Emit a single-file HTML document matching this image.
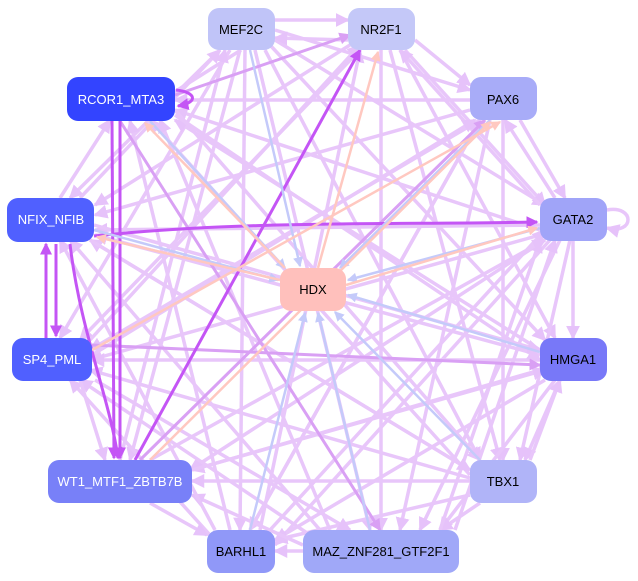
<!DOCTYPE html>
<html><head><meta charset="utf-8"><style>
html,body{margin:0;padding:0;background:#fff;}
svg{display:block;font-family:"Liberation Sans",sans-serif;}
</style></head><body>
<svg width="638" height="581" viewBox="0 0 638 581" xmlns="http://www.w3.org/2000/svg">
<defs>
<marker id="aL" markerWidth="4" markerHeight="4" refX="3.5" refY="2" orient="auto" markerUnits="strokeWidth"><path d="M0,0L4,2L0,4z" fill="#e6c2fa"/></marker>
<marker id="aM" markerWidth="4" markerHeight="4" refX="3.5" refY="2" orient="auto" markerUnits="strokeWidth"><path d="M0,0L4,2L0,4z" fill="#d9a0f4"/></marker>
<marker id="aS" markerWidth="4" markerHeight="4" refX="3.5" refY="2" orient="auto" markerUnits="strokeWidth"><path d="M0,0L4,2L0,4z" fill="#c455f5"/></marker>
<marker id="aB" markerWidth="4" markerHeight="4" refX="3.5" refY="2" orient="auto" markerUnits="strokeWidth"><path d="M0,0L4,2L0,4z" fill="#c4cafa"/></marker>
<marker id="aP" markerWidth="4" markerHeight="4" refX="3.5" refY="2" orient="auto" markerUnits="strokeWidth"><path d="M0,0L4,2L0,4z" fill="#ffc8c0"/></marker>
</defs>
<g fill="none" stroke-width="3.5" stroke="#e8c6fa" marker-end="url(#aL)">
<line x1="241" y1="50" x2="130" y2="120"/>
<line x1="220" y1="50" x2="70" y2="198"/>
<line x1="230" y1="50" x2="60" y2="338"/>
<line x1="240" y1="50" x2="130" y2="460"/>
<line x1="245" y1="50" x2="240" y2="530"/>
<line x1="255" y1="50" x2="370" y2="530"/>
<line x1="265" y1="50" x2="480" y2="460"/>
<line x1="270" y1="45" x2="545" y2="340"/>
<line x1="275" y1="40" x2="545" y2="205"/>
<line x1="275" y1="30" x2="470" y2="90"/>
<line x1="348" y1="40" x2="275" y2="38"/>
<line x1="275" y1="20" x2="348" y2="20"/>
<line x1="360" y1="50" x2="80" y2="340"/>
<line x1="350" y1="45" x2="95" y2="205"/>
<line x1="381" y1="50" x2="381" y2="530"/>
<line x1="390" y1="50" x2="500" y2="460"/>
<line x1="405" y1="50" x2="545" y2="205"/>
<line x1="415" y1="40" x2="470" y2="85"/>
<line x1="400" y1="50" x2="555" y2="338"/>
<line x1="470" y1="100" x2="175" y2="100"/>
<line x1="470" y1="110" x2="95" y2="215"/>
<line x1="480" y1="120" x2="90" y2="350"/>
<line x1="480" y1="120" x2="250" y2="530"/>
<line x1="490" y1="120" x2="400" y2="530"/>
<line x1="503" y1="120" x2="503" y2="460"/>
<line x1="520" y1="120" x2="565" y2="198"/>
<line x1="555" y1="198" x2="505" y2="120"/>
<line x1="540" y1="230" x2="175" y2="110"/>
<line x1="540" y1="225" x2="95" y2="230"/>
<line x1="540" y1="235" x2="90" y2="360"/>
<line x1="545" y1="240" x2="190" y2="470"/>
<line x1="550" y1="240" x2="275" y2="545"/>
<line x1="560" y1="240" x2="420" y2="530"/>
<line x1="573" y1="240" x2="573" y2="338"/>
<line x1="570" y1="240" x2="520" y2="460"/>
<line x1="540" y1="205" x2="400" y2="50"/>
<line x1="540" y1="350" x2="175" y2="120"/>
<line x1="540" y1="355" x2="95" y2="235"/>
<line x1="540" y1="360" x2="92" y2="360"/>
<line x1="540" y1="370" x2="192" y2="470"/>
<line x1="545" y1="380" x2="275" y2="540"/>
<line x1="555" y1="380" x2="440" y2="530"/>
<line x1="560" y1="380" x2="525" y2="460"/>
<line x1="530" y1="460" x2="560" y2="380"/>
<line x1="470" y1="475" x2="150" y2="120"/>
<line x1="470" y1="470" x2="90" y2="240"/>
<line x1="470" y1="478" x2="90" y2="370"/>
<line x1="470" y1="481" x2="192" y2="481"/>
<line x1="480" y1="503" x2="440" y2="530"/>
<line x1="470" y1="495" x2="275" y2="540"/>
<line x1="330" y1="530" x2="160" y2="120"/>
<line x1="320" y1="530" x2="70" y2="240"/>
<line x1="310" y1="535" x2="80" y2="380"/>
<line x1="303" y1="545" x2="192" y2="495"/>
<line x1="303" y1="551" x2="275" y2="551"/>
<line x1="440" y1="530" x2="540" y2="240"/>
<line x1="455" y1="530" x2="555" y2="240"/>
<line x1="230" y1="530" x2="130" y2="121"/>
<line x1="215" y1="530" x2="60" y2="240"/>
<line x1="210" y1="535" x2="70" y2="380"/>
<line x1="150" y1="503" x2="207" y2="535"/>
<line x1="250" y1="530" x2="480" y2="120"/>
<line x1="260" y1="530" x2="360" y2="50"/>
<line x1="270" y1="530" x2="545" y2="230"/>
<line x1="175" y1="115" x2="540" y2="360"/>
<line x1="175" y1="110" x2="480" y2="460"/>
<line x1="94" y1="225" x2="540" y2="350"/>
<line x1="90" y1="240" x2="470" y2="470"/>
<line x1="92" y1="355" x2="475" y2="120"/>
<line x1="80" y1="380" x2="105" y2="460"/>
<line x1="95" y1="380" x2="350" y2="530"/>
<line x1="90" y1="340" x2="360" y2="45"/>
<line x1="120" y1="460" x2="225" y2="50"/>
<line x1="150" y1="460" x2="545" y2="240"/>
<line x1="192" y1="470" x2="545" y2="370"/>
<line x1="60" y1="198" x2="110" y2="120"/>
<line x1="80" y1="198" x2="220" y2="50"/>
<path d="M607,210 C635,205 635,235 607,228"/>
</g>
<g fill="none" stroke="#d9a0f4" stroke-width="3" marker-end="url(#aM)">
<line x1="175" y1="95" x2="350" y2="35"/>
<line x1="120" y1="121" x2="380" y2="530"/>
<line x1="92" y1="345" x2="540" y2="365"/>
<line x1="140" y1="460" x2="485" y2="120"/>
</g>
<g fill="none" stroke="#c455f5" stroke-width="3" marker-end="url(#aS)">
<line x1="120" y1="121" x2="120" y2="458"/>
<line x1="112" y1="121" x2="114" y2="458"/>
<line x1="46" y1="338" x2="46" y2="244"/>
<line x1="56" y1="244" x2="56" y2="336"/>
<path d="M94,236 C250,220 400,225 537,222"/>
<line x1="135" y1="460" x2="360" y2="50"/>
<path d="M70,244 C80,330 110,400 118,458"/>
<path d="M176,90 C195,92 200,102 178,106"/>
</g>
<g fill="none" stroke="#c4cafa" stroke-width="2.5" marker-end="url(#aB)">
<line x1="250" y1="50" x2="300" y2="266"/>
<line x1="490" y1="120" x2="340" y2="268"/>
<line x1="540" y1="228" x2="348" y2="280"/>
<line x1="540" y1="352" x2="348" y2="295"/>
<line x1="480" y1="460" x2="335" y2="312"/>
<line x1="250" y1="530" x2="305" y2="313"/>
<line x1="370" y1="530" x2="318" y2="313"/>
<line x1="94" y1="230" x2="278" y2="280"/>
<line x1="150" y1="121" x2="285" y2="268"/>
</g>
<g fill="none" stroke="#ffc8c0" stroke-width="2.5" marker-end="url(#aP)">
<line x1="318" y1="268" x2="378" y2="52"/>
<line x1="346" y1="285" x2="537" y2="228"/>
<line x1="280" y1="280" x2="97" y2="237"/>
<line x1="285" y1="268" x2="145" y2="123"/>
<line x1="92" y1="350" x2="500" y2="122"/>
<line x1="150" y1="460" x2="490" y2="122"/>
</g>
<g font-size="13" text-anchor="middle">
<rect x="208" y="8" width="67" height="42" rx="11" fill="#c0c4f8"/><text x="241" y="34" fill="#000">MEF2C</text>
<rect x="348" y="8" width="67" height="42" rx="11" fill="#c4c8f8"/><text x="381" y="34" fill="#000">NR2F1</text>
<rect x="67" y="77" width="108" height="44" rx="11" fill="#3344ff"/><text x="121" y="104" fill="#fff">RCOR1_MTA3</text>
<rect x="470" y="77" width="67" height="43" rx="11" fill="#a8acf8"/><text x="503" y="104" fill="#000">PAX6</text>
<rect x="7" y="198" width="87" height="44" rx="11" fill="#5060ff"/><text x="51" y="224" fill="#fff">NFIX_NFIB</text>
<rect x="540" y="198" width="67" height="43" rx="11" fill="#a0a4f8"/><text x="573" y="224" fill="#000">GATA2</text>
<rect x="280" y="268" width="66" height="43" rx="11" fill="#ffc0bc"/><text x="313" y="294" fill="#000">HDX</text>
<rect x="12" y="338" width="80" height="43" rx="11" fill="#5060ff"/><text x="52" y="364" fill="#fff">SP4_PML</text>
<rect x="540" y="338" width="67" height="43" rx="11" fill="#7878f8"/><text x="573" y="364" fill="#000">HMGA1</text>
<rect x="48" y="460" width="144" height="43" rx="11" fill="#7880f8"/><text x="120" y="486" fill="#fff">WT1_MTF1_ZBTB7B</text>
<rect x="470" y="460" width="67" height="43" rx="11" fill="#b0b4f8"/><text x="503" y="486" fill="#000">TBX1</text>
<rect x="207" y="530" width="68" height="43" rx="11" fill="#9098f8"/><text x="241" y="556" fill="#000">BARHL1</text>
<rect x="303" y="530" width="156" height="43" rx="11" fill="#a0a8f8"/><text x="381" y="556" fill="#000">MAZ_ZNF281_GTF2F1</text>
</g>
</svg>
</body></html>
